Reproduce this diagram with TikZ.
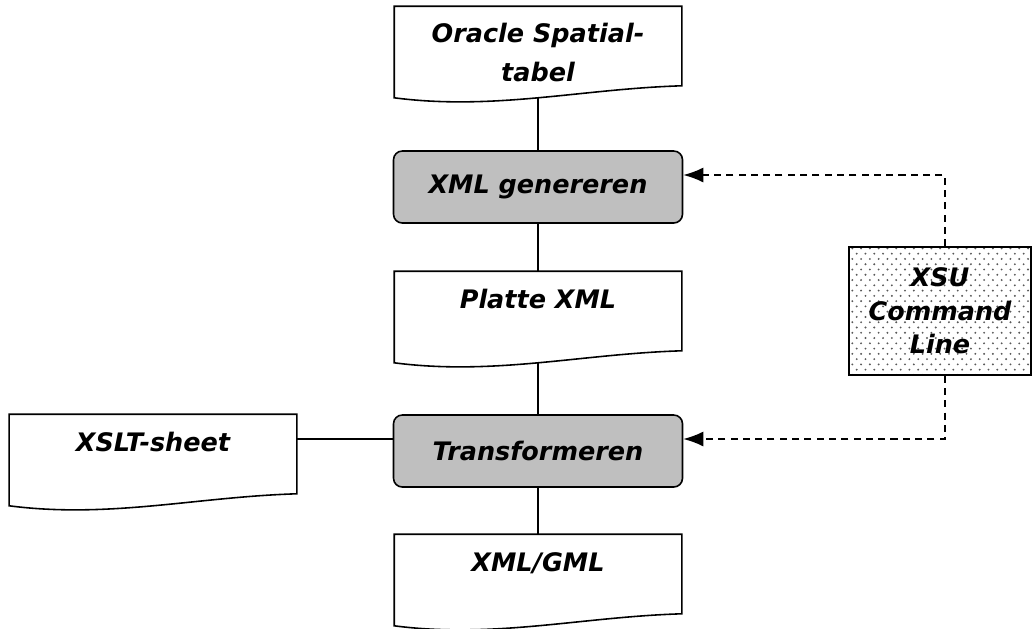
\documentclass[tikz,border=0pt]{standalone}
\usepackage{fontspec}
\setmainfont{DejaVu Sans}
\usetikzlibrary{arrows.meta,patterns}
\pgfdeclarepatternformonly{xsudots}{\pgfqpoint{-1pt}{-1pt}}{\pgfqpoint{4pt}{4pt}}{\pgfqpoint{5pt}{6pt}}{%
  \pgfpathcircle{\pgfqpoint{0pt}{0pt}}{.6pt}%
  \pgfpathcircle{\pgfqpoint{2.5pt}{3pt}}{.6pt}%
  \pgfusepath{fill}}
\newcommand\docframe[1]{%
  \draw (#1.north west) -- (#1.north east) -- (#1.south east)
    .. controls +(-100,3) and +(100,13) .. coordinate[pos=.5] (#1-b) ([yshift=-2.4mm]#1.south west) -- cycle;}
\begin{document}
\begin{tikzpicture}[
  x=0.2mm, y=-0.2mm, line width=0.9pt, >={Latex[length=4mm,width=3mm]},
  every node/.style={font=\fontsize{14.5}{19}\selectfont\bfseries\itshape,align=center},
  doc/.style={minimum width=57.2mm,minimum height=15.6mm,inner sep=0pt,text depth=14pt},
  proc/.style={draw,rounded corners=5pt,fill=black!25,minimum width=57.8mm,minimum height=14.4mm},
  tool/.style={draw,minimum width=36.4mm,minimum height=25.6mm,preaction={fill=white},pattern=xsudots,pattern color=black!65},
  ctrl/.style={dash pattern=on 4pt off 3pt,->}
]
  \useasboundingbox (0,0) rectangle (1033,628);
  \node[doc,text height=40pt,text depth=0pt] (oracle) at (538,46) {Oracle Spatial-\\[3pt]tabel};
  \node[proc] (genereren) at (538,187) {XML genereren};
  \node[doc] (platte) at (538,311) {Platte XML};
  \node[proc] (transf) at (538,451) {Transformeren};
  \node[doc] (gml) at (538,574) {XML/GML};
  \node[doc] (xslt) at (153,454) {XSLT-sheet};
  \node[tool] (xsu) at (940,311) {XSU\\Command\\Line};

  \docframe{oracle}
  \docframe{platte}
  \docframe{gml}
  \docframe{xslt}

  \coordinate (tin) at ([yshift=2.4mm]transf.west);
  \draw (oracle-b)--(genereren);
  \draw (genereren)--(platte);
  \draw (platte-b)--(transf);
  \draw (transf)--(gml);
  \draw (tin)--(tin -| xslt.east);
  \draw[ctrl] ([xshift=1mm]xsu.north) |- ([yshift=2.4mm]genereren.east);
  \draw[ctrl] ([xshift=1mm]xsu.south) |- ([yshift=2.4mm]transf.east);
\end{tikzpicture}
\end{document}
